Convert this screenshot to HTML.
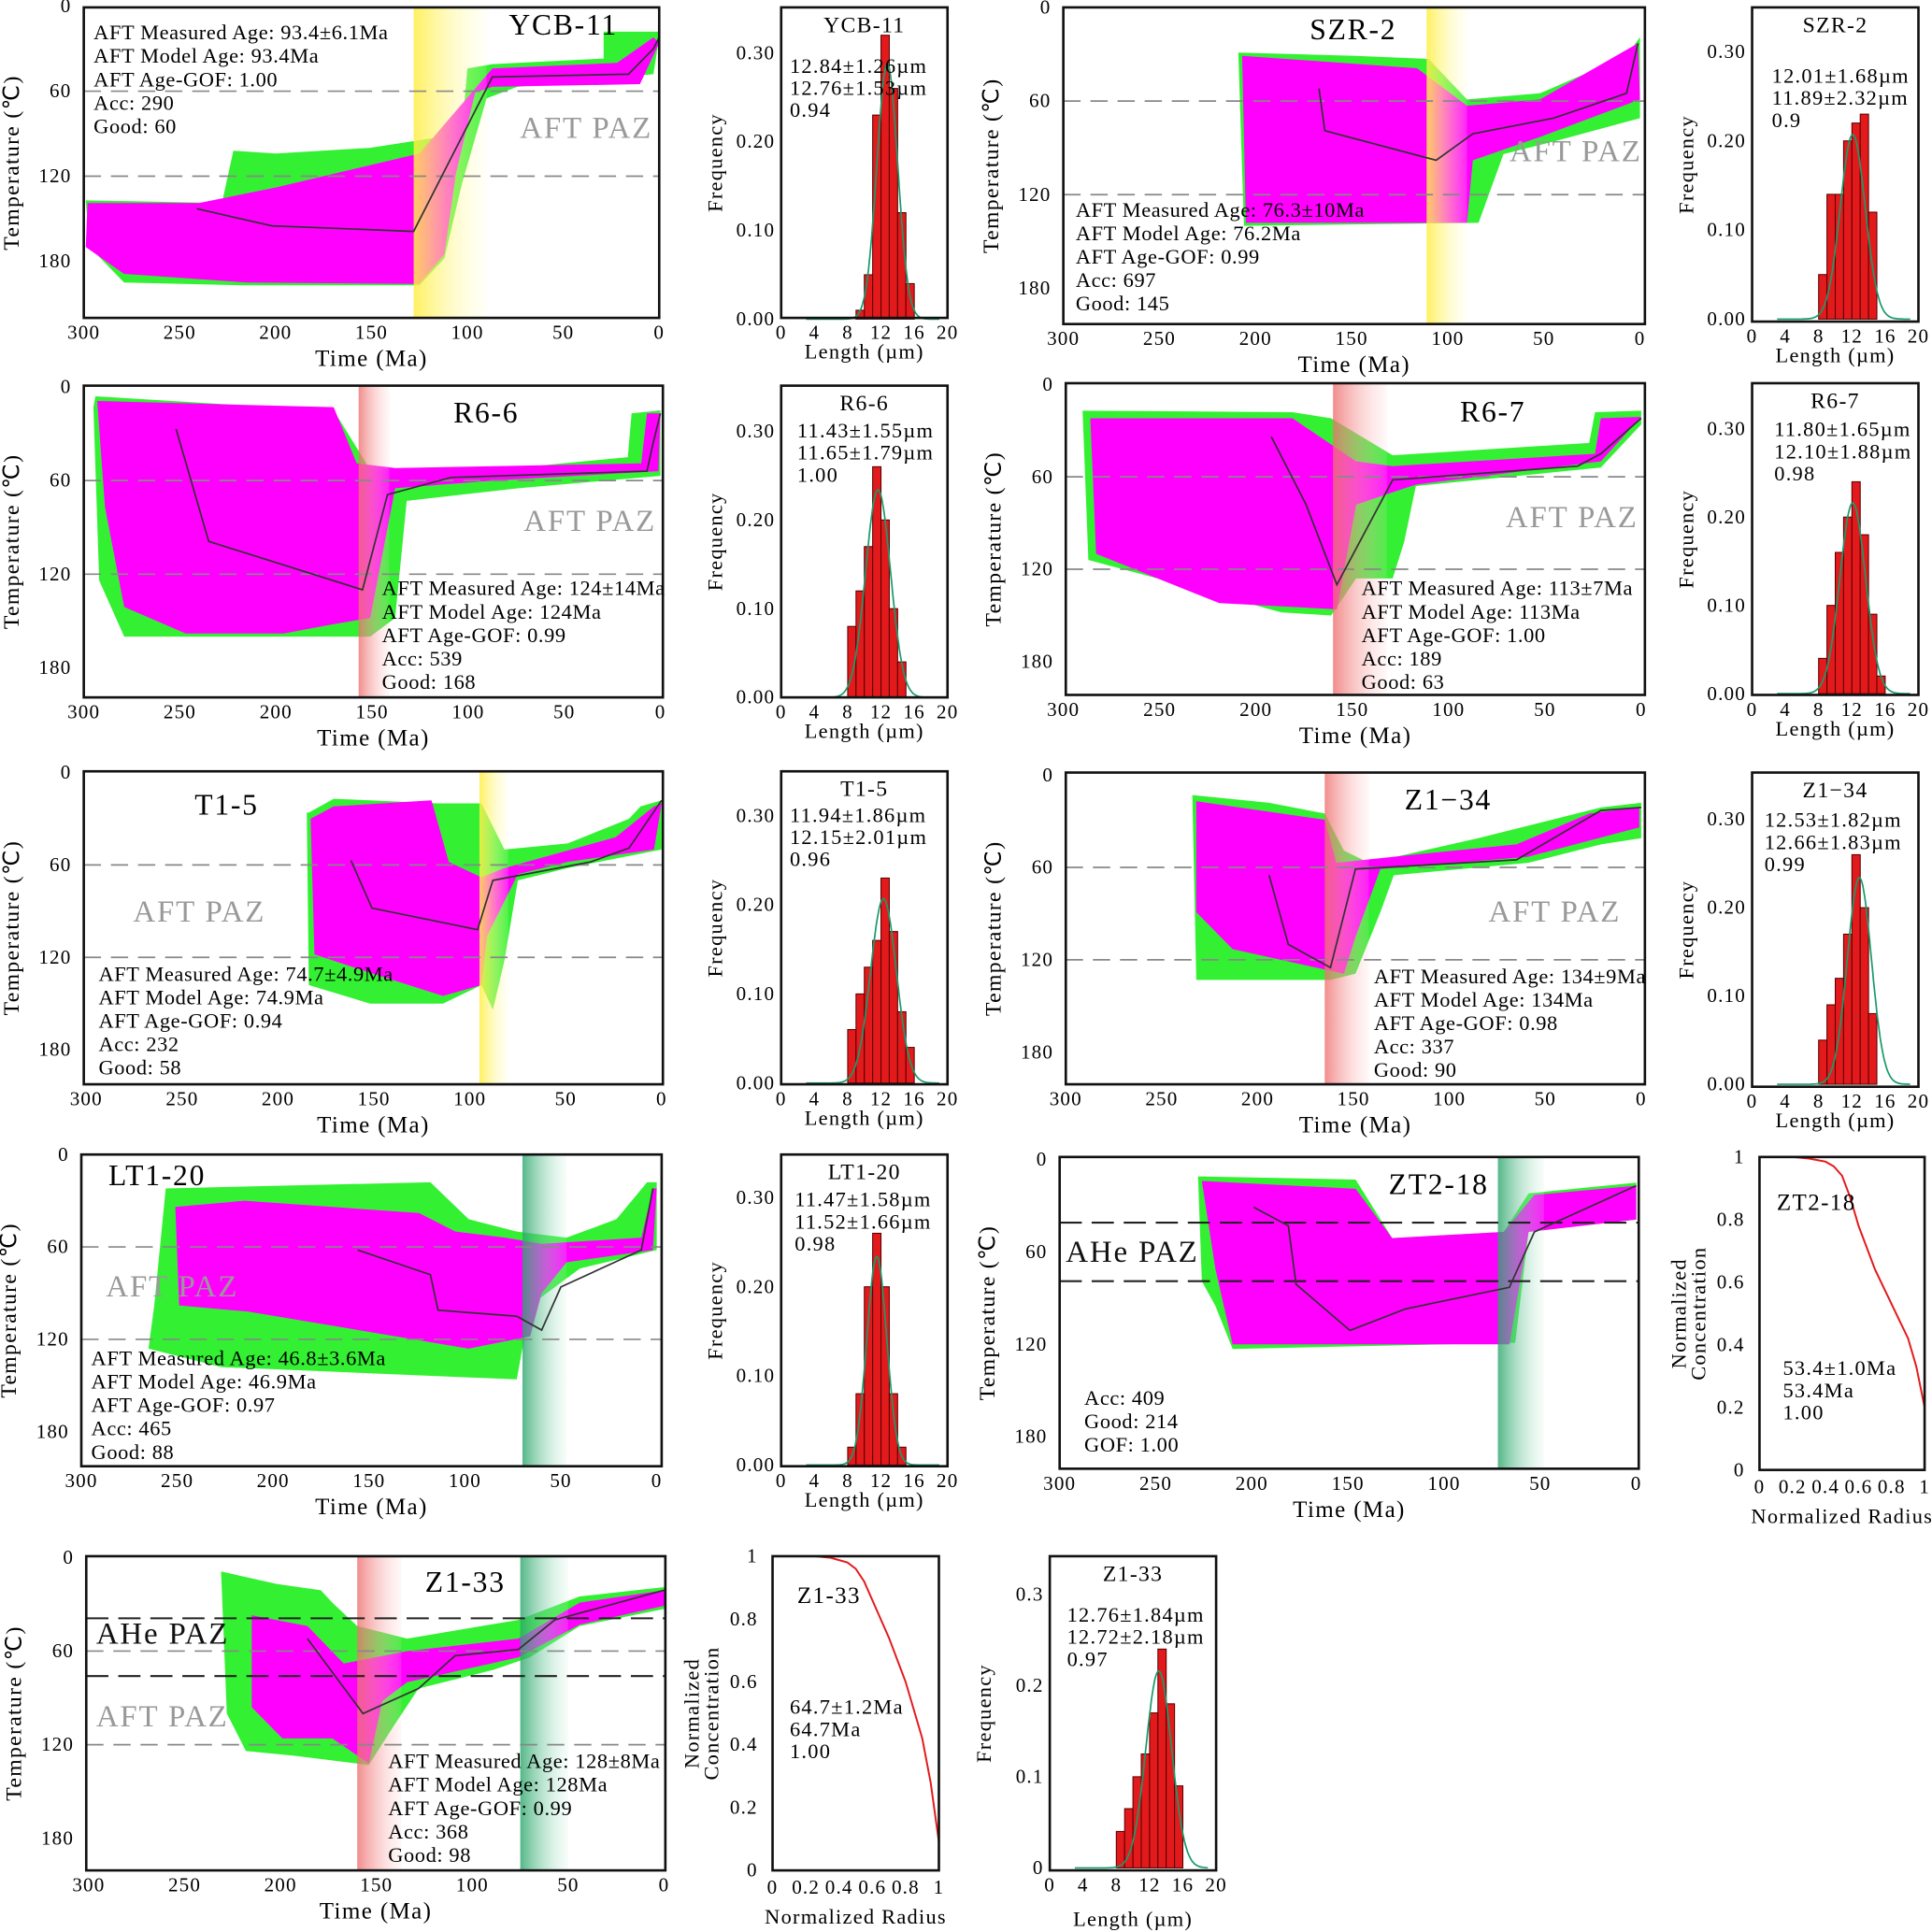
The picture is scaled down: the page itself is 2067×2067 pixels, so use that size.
<!DOCTYPE html>
<html><head><meta charset="utf-8"><title>Thermal history models</title>
<style>html,body{margin:0;padding:0;background:#fff;}svg{display:block;font-family:"Liberation Serif",serif;}</style>
</head><body>
<svg id="fig" width="2067" height="2067" viewBox="0 0 1568 1568" xmlns="http://www.w3.org/2000/svg">
<defs>
<linearGradient id="gY" x1="0" x2="1" y1="0" y2="0"><stop offset="0" stop-color="#ffee44" stop-opacity="0.85"/><stop offset="1" stop-color="#ffffcc" stop-opacity="0.15"/></linearGradient>
<linearGradient id="gR" x1="0" x2="1" y1="0" y2="0"><stop offset="0" stop-color="#ee7070" stop-opacity="0.8"/><stop offset="1" stop-color="#ffd0d0" stop-opacity="0.15"/></linearGradient>
<linearGradient id="gG" x1="0" x2="1" y1="0" y2="0"><stop offset="0" stop-color="#2aa56a" stop-opacity="0.8"/><stop offset="1" stop-color="#c8f0dc" stop-opacity="0.15"/></linearGradient>
</defs>
</svg>
<script>
// ---------- DATA: thermal histories [time Ma, temperature C] ----------
const ycbGreen=[[299,137],[297,170],[279,195],[215,197],[125,197],[112,178],[103,126],[90,65],[74,57],[3,48],[0,22],[0,18],[29,18],[29,37],[87,41],[100,44],[103,90],[151,100],[200,104],[222,102],[228,139],[299,137]];
const ycbMagenta=[[298,139],[299,170],[279,189],[215,195],[125,196],[112,175],[106,118],[96,61],[87,57],[10,55],[0,26],[3,22],[22,40],[87,44],[125,104],[200,128],[240,139],[298,139]];
const ycbPath=[[241,143],[202,155],[128,159],[87,50],[16,48],[3,30],[0,22]];
const szrGreen=[[209,29],[148,31],[110,33],[90,59],[52,55],[7,31],[0,19],[0,71],[45,86],[71,94],[84,138],[206,140],[209,29]];
const szrMagenta=[[207,31],[116,39],[90,63],[52,59],[1,23],[0,59],[52,83],[87,98],[90,138],[205,138],[207,31]];
const szrPath=[[167,52],[164,79],[106,98],[87,81],[45,71],[7,55],[1,23]];
const r66Green=[[294,6],[215,12],[170,15],[151,53],[68,51],[17,45],[15,17],[0,15],[0,57],[74,65],[132,73],[138,148],[151,160],[279,160],[292,124],[295,13],[294,6]];
const r66Magenta=[[293,9],[170,13],[158,49],[138,52],[10,49],[7,17],[0,17],[1,54],[87,60],[138,65],[151,148],[170,152],[196,158],[247,158],[279,141],[289,77],[293,9]];
const r66Path=[[252,27],[235,99],[155,130],[142,69],[109,58],[7,54],[4,37],[0,17]];
const r67Green=[[290,17],[181,18],[161,22],[129,46],[27,38],[24,18],[0,17],[0,26],[21,54],[117,66],[123,102],[129,126],[148,126],[161,150],[187,148],[245,128],[287,114],[290,17]];
const r67Magenta=[[286,22],[181,22],[148,50],[129,53],[24,45],[21,22],[0,21],[21,50],[117,65],[129,70],[148,78],[158,146],[219,142],[283,110],[286,22]];
const r67Path=[[192,34],[174,78],[158,130],[129,62],[33,53],[21,45],[0,22]];
const t15Green=[[184,26],[171,17],[152,18],[117,20],[94,20],[82,50],[49,46],[17,30],[11,22],[0,18],[0,50],[49,62],[75,70],[82,122],[88,154],[94,138],[114,150],[152,150],[184,138],[185,26]];
const t15Magenta=[[183,30],[171,22],[120,18],[111,58],[94,68],[82,62],[24,42],[4,22],[0,20],[4,50],[49,58],[75,66],[91,106],[94,138],[114,145],[152,130],[181,118],[183,30]];
const t15Path=[[162,57],[151,88],[96,102],[88,70],[37,58],[17,49],[0,18]];
const z134Green=[[234,13],[194,18],[165,25],[155,49],[142,57],[85,41],[21,21],[0,18],[0,41],[21,45],[59,57],[129,65],[136,89],[149,129],[162,133],[232,133],[234,13]];
const z134Magenta=[[232,17],[165,29],[159,57],[129,53],[65,45],[27,25],[1,21],[1,34],[59,53],[136,61],[149,105],[155,129],[213,113],[232,89],[232,17]];
const z134Path=[[194,65],[184,110],[162,125],[149,61],[65,55],[21,23],[0,21]];
const lt120Green=[[256,22],[118,18],[98,42],[73,50],[47,54],[21,42],[5,18],[0,18],[0,62],[40,74],[66,98],[73,146],[227,138],[265,126],[262,98],[256,22]];
const lt120Magenta=[[251,34],[215,30],[124,38],[105,50],[79,54],[60,58],[8,54],[2,22],[0,22],[2,62],[47,70],[60,90],[66,118],[98,126],[213,102],[249,98],[251,34]];
const lt120Path=[[156,62],[118,78],[114,101],[73,105],[60,114],[50,86],[8,62],[2,22]];
const zt218Green=[[228,11],[146,13],[127,51],[69,47],[56,22],[0,15],[0,39],[56,47],[63,119],[210,123],[219,95],[226,79],[228,11]];
const zt218Magenta=[[226,14],[146,19],[127,51],[69,47],[53,23],[0,17],[0,39],[56,47],[66,120],[210,120],[219,71],[226,14]];
const zt218Path=[[199,31],[181,43],[177,81],[149,111],[120,97],[66,83],[53,47],[0,17]];
const z133Green=[[231,9],[202,17],[179,21],[173,29],[160,44],[134,52],[76,40],[44,25],[0,19],[0,33],[44,44],[70,64],[89,72],[128,84],[141,108],[154,133],[193,127],[218,124],[228,100],[231,9]];
const z133Magenta=[[215,37],[186,44],[167,68],[134,60],[76,52],[44,29],[0,21],[0,31],[44,43],[76,64],[134,80],[147,92],[154,132],[173,116],[199,116],[215,96],[215,37]];
const z133Path=[[186,52],[157,100],[128,84],[109,63],[76,59],[57,40],[0,21]];

// ---------- DATA: length histograms (1 um bins starting at binStart) ----------
const ycbHist=[0.01,0.05,0.23,0.32,0.26,0.12,0.04];
const szrHist=[0.05,0.14,0.14,0.20,0.22,0.23,0.12];
const r66Hist=[0.08,0.12,0.17,0.26,0.20,0.10,0.04];
const r67Hist=[0.04,0.10,0.16,0.20,0.24,0.18,0.09,0.02];
const t15Hist=[0.06,0.10,0.13,0.16,0.23,0.17,0.08,0.04];
const z134Hist=[0.05,0.09,0.12,0.17,0.26,0.20,0.08];
const lt120Hist=[0.02,0.08,0.20,0.26,0.20,0.08,0.02];
const z133Hist=[0.04,0.065,0.10,0.125,0.17,0.24,0.18,0.09];
const lengthTicks=[0,4,8,12,16,20];
const freqTicks=[0,0.1,0.2,0.3];

// ---------- DATA: He diffusion profiles ----------
const zt218Radius=[0,0.2,0.3,0.4,0.45,0.5,0.55,0.6,0.7,0.8,0.9,0.95,1];
const zt218Conc=[1,1,0.995,0.985,0.97,0.94,0.87,0.78,0.64,0.53,0.42,0.33,0.2];
const z133Radius=[0.25,0.35,0.45,0.5,0.55,0.6,0.7,0.8,0.9,0.95,1];
const z133Conc=[1,0.995,0.98,0.96,0.92,0.86,0.74,0.6,0.42,0.28,0.09];
const radiusTicks=[0,0.2,0.4,0.6,0.8,1];
const concTicks=[0,0.2,0.4,0.6,0.8,1];
const timeTicks=[300,250,200,150,100,50,0];
const tempTicks=[0,60,120,180];

const NS='http://www.w3.org/2000/svg';
const svg=document.getElementById('fig');
function mk(tag,attrs,parent){const e=document.createElementNS(NS,tag);for(const k in attrs)e.setAttribute(k,attrs[k]);parent.appendChild(e);return e;}
function txt(parent,x,y,s,size,extra){const e=mk('text',Object.assign({x:x,y:y,'font-size':size,'letter-spacing':(size*0.055).toFixed(2)},extra||{}),parent);e.textContent=s;return e;}

// ---------- layouts ----------
const thermal=[
 {id:'ycb-11',title:'YCB-11',bx:[68,6,535,258],x300:68,x0:535,y0:5,y60:74,green:ycbGreen,mag:ycbMagenta,path:ycbPath,band:[128,90,'gY'],lines:[[60,'g'],[120,'g']],title_xy:[413,28],block:[76,32,['AFT Measured Age: 93.4±6.1Ma','AFT Model Age: 93.4Ma','AFT Age-GOF: 1.00','Acc: 290','Good: 60']],paz:[[422,112,'AFT PAZ','#999']]},
 {id:'szr-2',title:'SZR-2',bx:[863,6,1335,263],x300:863,x0:1331,y0:6,y60:82,green:szrGreen,mag:szrMagenta,path:szrPath,band:[111,90,'gY'],lines:[[60,'g'],[120,'g']],title_xy:[1063,32],block:[873,176,['AFT Measured Age: 76.3±10Ma','AFT Model Age: 76.2Ma','AFT Age-GOF: 0.99','Acc: 697','Good: 145']],paz:[[1225,131,'AFT PAZ','#999']]},
 {id:'r6-6',title:'R6-6',bx:[68,313,538,566],x300:68,x0:536,y0:314,y60:390,green:r66Green,mag:r66Magenta,path:r66Path,band:[157,141,'gR'],lines:[[60,'g'],[120,'g']],title_xy:[368,343],block:[310,483,['AFT Measured Age: 124±14Ma','AFT Model Age: 124Ma','AFT Age-GOF: 0.99','Acc: 539','Good: 168']],paz:[[425,431,'AFT PAZ','#999']]},
 {id:'r6-7',title:'R6-7',bx:[865,311,1335,564],x300:863,x0:1332,y0:312,y60:387,green:r67Green,mag:r67Magenta,path:r67Path,band:[160,132,'gR'],lines:[[60,'g'],[120,'g']],title_xy:[1185,342],block:[1105,483,['AFT Measured Age: 113±7Ma','AFT Model Age: 113Ma','AFT Age-GOF: 1.00','Acc: 189','Good: 63']],paz:[[1222,428,'AFT PAZ','#999']]},
 {id:'t1-5',title:'T1-5',bx:[68,626,538,880],x300:70,x0:537,y0:627,y60:702,green:t15Green,mag:t15Magenta,path:t15Path,band:[95,80,'gY'],lines:[[60,'g'],[120,'g']],title_xy:[158,661],block:[80,796,['AFT Measured Age: 74.7±4.9Ma','AFT Model Age: 74.9Ma','AFT Age-GOF: 0.94','Acc: 232','Good: 58']],paz:[[108,748,'AFT PAZ','#999']]},
 {id:'z1-34',title:'Z1−34',bx:[865,627,1335,880],x300:865,x0:1332,y0:629,y60:704,green:z134Green,mag:z134Magenta,path:z134Path,band:[165,142,'gR'],lines:[[60,'g'],[120,'g']],title_xy:[1140,657],block:[1115,798,['AFT Measured Age: 134±9Ma','AFT Model Age: 134Ma','AFT Age-GOF: 0.98','Acc: 337','Good: 90']],paz:[[1208,748,'AFT PAZ','#999']]},
 {id:'lt1-20',title:'LT1-20',bx:[66,937,537,1190],x300:66,x0:533,y0:937,y60:1012,green:lt120Green,mag:lt120Magenta,path:lt120Path,band:[70,47,'gG'],lines:[[60,'g'],[120,'g']],title_xy:[88,962],block:[74,1108,['AFT Measured Age: 46.8±3.6Ma','AFT Model Age: 46.9Ma','AFT Age-GOF: 0.97','Acc: 465','Good: 88']],paz:[[86,1052,'AFT PAZ','#999']]},
 {id:'zt2-18',title:'ZT2-18',bx:[860,939,1330,1192],x300:860,x0:1328,y0:941,y60:1016,green:zt218Green,mag:zt218Magenta,path:zt218Path,band:[72,48,'gG'],lines:[[41,'k'],[79,'k']],title_xy:[1127,969],block:[880,1140,['Acc: 409','Good: 214','GOF: 1.00']],paz:[[865,1024,'AHe PAZ','#111']]},
 {id:'z1-33',title:'Z1-33',bx:[70,1263,540,1518],x300:72,x0:539,y0:1264,y60:1340,green:z133Green,mag:z133Magenta,path:z133Path,band:[160,137,'gR'],band2:[75,50,'gG'],lines:[[60,'g'],[120,'g'],[39,'k'],[76,'k']],title_xy:[345,1292],block:[315,1435,['AFT Measured Age: 128±8Ma','AFT Model Age: 128Ma','AFT Age-GOF: 0.99','Acc: 368','Good: 98']],paz:[[78,1334,'AHe PAZ','#111'],[78,1401,'AFT PAZ','#999']]}
];

function drawThermal(p,i){
 const g=mk('g',{},svg);
 
 
 const sx=t=>p.x300+(300-t)*(p.x0-p.x300)/300;
 const sy=T=>p.y0+T*(p.y60-p.y0)/60;
 const [x0,y0,x1,y1]=p.bx;
 const cp=mk('clipPath',{id:'clip'+i},g);
 mk('rect',{x:x0,y:y0,width:x1-x0,height:y1-y0},cp);
 const inner=mk('g',{'clip-path':'url(#clip'+i+')'},g);
 const pts=a=>a.map(d=>sx(d[0]).toFixed(1)+','+sy(d[1]).toFixed(1)).join(' ');
 const gp=mk('polygon',{points:pts(p.green),fill:'#33f033'},inner);
 
 
 const mp=mk('polygon',{points:pts(p.mag),fill:'#ff00ff'},inner);
 
 
 [p.band,p.band2].forEach(b=>{if(!b)return;
  const r=mk('rect',{x:sx(b[0]),y:y0,width:sx(b[1])-sx(b[0]),height:y1-y0,fill:'url(#'+b[2]+')'},inner);
  
  
 });
 p.lines.forEach(l=>{
  const ln=mk('line',{x1:x0,x2:x1,y1:sy(l[0]),y2:sy(l[0]),stroke:l[1]=='k'?'#222':'#888','stroke-width':l[1]=='k'?1.6:1.3,'stroke-dasharray':l[1]=='k'?'18,8':'14,8'},inner);
  
  
 });
 const bp=mk('polyline',{points:pts(p.path),fill:'none',stroke:'#333','stroke-width':1.3},inner);
 
 
 const box=mk('rect',{x:x0,y:y0,width:x1-x0,height:y1-y0,fill:'none',stroke:'#111','stroke-width':2},g);
 
 
 timeTicks.forEach(t=>{const e=txt(g,sx(t),y1+17,String(t),16,{'text-anchor':'middle'});
  
  });
 tempTicks.forEach(T=>{const e=txt(g,x0-10,sy(T)+5,String(T),16,{'text-anchor':'end'});
  
  });
 const xt=txt(g,(x0+x1)/2,y1+39,'Time (Ma)',19,{'text-anchor':'middle'});
 
 
 const cy=(y0+y1)/2, cx=x0-53;
 const yt=txt(g,cx,cy,'Temperature (℃)',18,{'text-anchor':'middle',transform:'rotate(-90 '+cx+' '+cy+')'});
 
 
 const tt=txt(g,p.title_xy[0],p.title_xy[1],p.title,24);
 
 
 p.block[2].forEach((s,k)=>{const e=txt(g,p.block[0],p.block[1]+k*19,s,17,{'letter-spacing':'0.45'});
  
  });
 p.paz.forEach(z=>{const e=txt(g,z[0],z[1],z[2],25,{fill:z[3]});
  
  });
}
thermal.forEach(drawThermal);

// ---------- histograms ----------
const hists=[
 {id:'ycb-11',title:'YCB-11',bx:[634,6,769,258],yZero:259,y30:43,hist:ycbHist,binStart:9,mean:12.76,sd:1.25,lines:['12.84±1.26µm','12.76±1.53µm','0.94'],tx:641,ty:59},
 {id:'szr-2',title:'SZR-2',bx:[1422,6,1557,261],yZero:259,y30:42,hist:szrHist,binStart:8,mean:12.1,sd:1.5,lines:['12.01±1.68µm','11.89±2.32µm','0.9'],tx:1438,ty:67},
 {id:'r6-6',title:'R6-6',bx:[634,313,769,566],yZero:566,y30:350,hist:r66Hist,binStart:8,mean:11.65,sd:1.5,lines:['11.43±1.55µm','11.65±1.79µm','1.00'],tx:647,ty:355},
 {id:'r6-7',title:'R6-7',bx:[1422,311,1557,564],yZero:563,y30:348,hist:r67Hist,binStart:8,mean:12.1,sd:1.55,lines:['11.80±1.65µm','12.10±1.88µm','0.98'],tx:1440,ty:354},
 {id:'t1-5',title:'T1-5',bx:[634,626,769,880],yZero:879,y30:662,hist:t15Hist,binStart:8,mean:12.3,sd:1.55,lines:['11.94±1.86µm','12.15±2.01µm','0.96'],tx:641,ty:667},
 {id:'z1-34',title:'Z1−34',bx:[1422,627,1557,882],yZero:880,y30:665,hist:z134Hist,binStart:8,mean:12.9,sd:1.45,lines:['12.53±1.82µm','12.66±1.83µm','0.99'],tx:1432,ty:671},
 {id:'lt1-20',title:'LT1-20',bx:[634,937,769,1190],yZero:1189,y30:972,hist:lt120Hist,binStart:8,mean:11.5,sd:1.2,lines:['11.47±1.58µm','11.52±1.66µm','0.98'],tx:645,ty:979},
 {id:'z1-33',title:'Z1-33',bx:[852,1263,987,1518],yZero:1516,y30:1294,hist:z133Hist,binStart:8,mean:13.1,sd:1.55,lines:['12.76±1.84µm','12.72±2.18µm','0.97'],tx:866,ty:1316,short:true}
];
function drawHist(h){
 const g=mk('g',{},svg);
 
 
 const [x0,y0,x1,y1]=h.bx;
 const sx=v=>x0+v*(x1-x0)/20;
 const sy=f=>h.yZero+f*(h.y30-h.yZero)/0.3;
 h.hist.forEach((f,k)=>{
  const r=mk('rect',{x:sx(h.binStart+k),y:sy(f),width:sx(1)-sx(0),height:h.yZero-sy(f),fill:'#e31a1c',stroke:'#5a0000','stroke-width':0.8},g);
  
  
 });
 const peak=Math.max(...h.hist)*0.9;
 let d='';
 for(let v=3;v<=19;v+=0.1){const f=peak*Math.exp(-0.5*Math.pow((v-h.mean)/h.sd,2));d+=(d?'L':'M')+sx(v).toFixed(1)+','+sy(f).toFixed(1);}
 const c=mk('path',{d:d,fill:'none',stroke:'#1a9a6a','stroke-width':1.3},g);
 
 
 const box=mk('rect',{x:x0,y:y0,width:x1-x0,height:y1-y0,fill:'none',stroke:'#111','stroke-width':2},g);
 
 
 lengthTicks.forEach(v=>{const e=txt(g,sx(v),y1+17,String(v),16,{'text-anchor':'middle'});
  
  });
 freqTicks.forEach(f=>{const e=txt(g,x0-5,sy(f)+5,h.short?String(f):f.toFixed(2),16,{'text-anchor':'end'});
  
  });
 const xt=txt(g,(x0+x1)/2,y1+(h.short?45:33),'Length (µm)',17,{'text-anchor':'middle'});
 
 
 const cy=(y0+y1)/2, cx=x0-48;
 const yt=txt(g,cx,cy,'Frequency',17,{'text-anchor':'middle',transform:'rotate(-90 '+cx+' '+cy+')'});
 
 
 const tt=txt(g,(x0+x1)/2,y0+20,h.title,18,{'text-anchor':'middle'});
 
 
 h.lines.forEach((s,k)=>{const e=txt(g,h.tx,h.ty+k*18,s,17);
  
  });
}
hists.forEach(drawHist);

// ---------- diffusion profiles ----------
const diffs=[
 {id:'zt2-18',title:'ZT2-18',bx:[1428,939,1562,1193],r:zt218Radius,c:zt218Conc,tt:[1442,982],lines:['53.4±1.0Ma','53.4Ma','1.00'],tx:1447,ty:1116},
 {id:'z1-33',title:'Z1-33',bx:[627,1263,762,1518],r:z133Radius,c:z133Conc,tt:[647,1301],lines:['64.7±1.2Ma','64.7Ma','1.00'],tx:641,ty:1391}
];
function drawDiff(p){
 const g=mk('g',{},svg);
 
 
 const [x0,y0,x1,y1]=p.bx;
 const sx=v=>x0+v*(x1-x0);
 const sy=v=>y1-v*(y1-y0);
 const pl=mk('polyline',{points:p.r.map((r,k)=>sx(r).toFixed(1)+','+sy(p.c[k]).toFixed(1)).join(' '),fill:'none',stroke:'#e31a1c','stroke-width':1.5},g);
 
 
 const box=mk('rect',{x:x0,y:y0,width:x1-x0,height:y1-y0,fill:'none',stroke:'#111','stroke-width':2},g);
 
 
 radiusTicks.forEach(v=>{const e=txt(g,sx(v),y1+19,String(v),16,{'text-anchor':'middle'});
  
  });
 concTicks.forEach(v=>{const e=txt(g,x0-12,sy(v)+5,String(v),16,{'text-anchor':'end'});
  
  });
 const xt=txt(g,(x0+x1)/2,y1+43,'Normalized Radius',17,{'text-anchor':'middle'});
 
 
 const cy=(y0+y1)/2;
 [['Normalized',x0-60],['Concentration',x0-44]].forEach(a=>{const e=txt(g,a[1],cy,a[0],17,{'text-anchor':'middle',transform:'rotate(-90 '+a[1]+' '+cy+')'});
  
  });
 const tt=txt(g,p.tt[0],p.tt[1],p.title,19);
 
 
 p.lines.forEach((s,k)=>{const e=txt(g,p.tx,p.ty+k*18,s,17);
  
  });
}
diffs.forEach(drawDiff);
</script>
</body></html>
